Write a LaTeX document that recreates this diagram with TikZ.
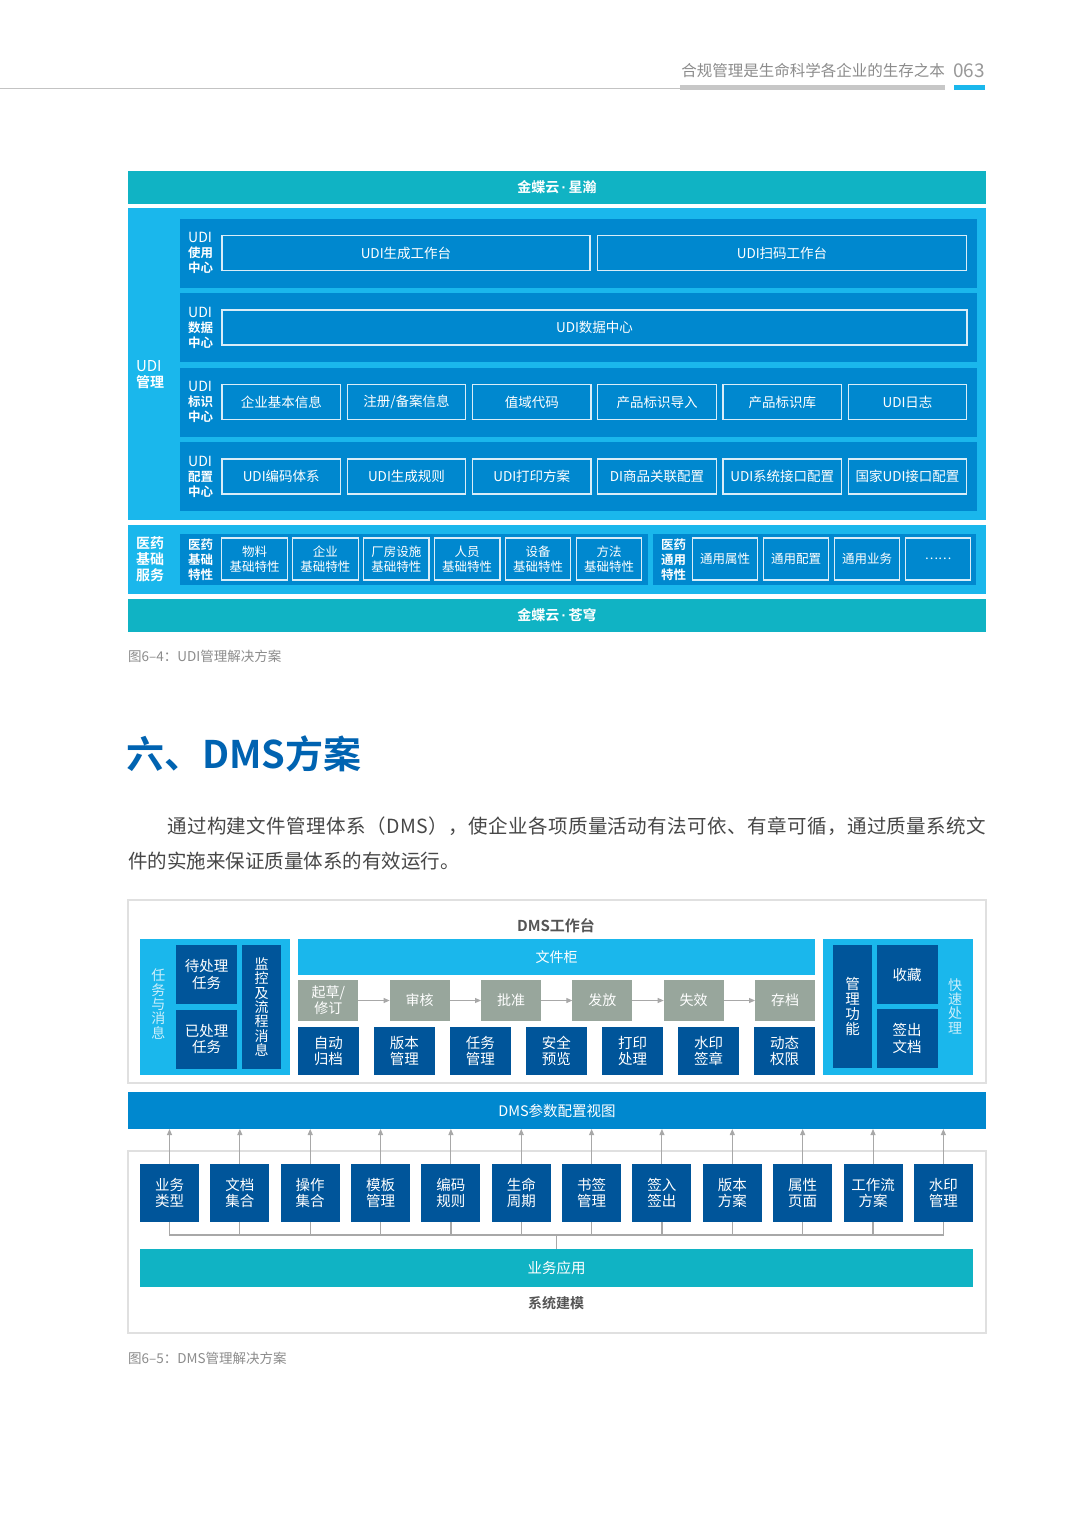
\documentclass[tikz,border=0pt]{standalone}
\usepackage{fontspec}
\setmainfont{Noto Sans CJK SC}[BoldFont={Noto Sans CJK SC Bold}]
\newfontfamily\latinfont{Liberation Sans}
\usetikzlibrary{arrows.meta,positioning}
\definecolor{tealbar}{HTML}{10B3C4}
\definecolor{skyblue}{HTML}{1AB7EC}
\definecolor{midblue}{HTML}{0088CF}
\definecolor{navyblue}{HTML}{00559A}
\definecolor{stepgray}{HTML}{98A69C}
\definecolor{headblue}{HTML}{0063B1}
\definecolor{linegray}{HTML}{A8A8A8}
\definecolor{framegray}{HTML}{E0E0E0}
\definecolor{textgray}{HTML}{555555}
\definecolor{softgray}{HTML}{8C8C8C}
\newcommand\middot{{\latinfont\,·\,}}
\newcommand\udi{{\mdseries\fontsize{14}{15}\selectfont UDI}}
\tikzset
{
    band/.style      = {rectangle, inner sep=0pt, outer sep=0pt},
    tealband/.style  = {band, fill=tealbar, text=white, minimum width=858pt, minimum height=33pt, font=\fontsize{14}{16}\selectfont\bfseries},
    skyband/.style   = {band, fill=skyblue},
    rowpanel/.style  = {band, fill=midblue, minimum width=797pt, minimum height=69pt},
    sidelabel/.style = {text=white, align=left, inner sep=0pt, font=\fontsize{14}{16}\selectfont\bfseries},
    rowlabel/.style  = {text=white, align=left, inner sep=0pt, font=\fontsize{12.5}{15}\selectfont\bfseries},
    outbox/.style    = {band, draw=white!85!midblue, line width=1.2pt, text=white, minimum width=118.5pt, minimum height=35pt, font=\fontsize{13.5}{15}\selectfont},
    smallbox/.style  = {outbox, minimum width=65.5pt, minimum height=42pt, align=center, font=\fontsize{12.5}{15}\selectfont},
    caption/.style   = {anchor=west, inner sep=0pt, text=softgray, font=\fontsize{13.5}{15}\selectfont},
    bodytext/.style  = {anchor=west, inner sep=0pt, text=black!72, font=\fontsize{19.5}{22}\selectfont},
    frame/.style     = {draw=framegray, line width=1.5pt},
    navybox/.style   = {band, fill=navyblue, text=white, align=center, minimum width=61pt, minimum height=59pt, font=\fontsize{14.5}{16.5}\selectfont},
    stepbox/.style   = {band, fill=stepgray, text=white, align=center, minimum width=60pt, minimum height=41pt, font=\fontsize{14}{16}\selectfont},
    vertlabel/.style = {text=white!78!skyblue, align=center, inner sep=0pt, font=\fontsize{14}{14.3}\selectfont},
    flow/.style      = {draw=linegray, line width=1pt, -{Triangle[length=6pt,width=5pt]}},
    bus/.style       = {draw=linegray, line width=1.2pt}
}

\begin{document}
\begin{tikzpicture}[x=1pt, y=-1pt]
\useasboundingbox[fill=white] (0,0) rectangle (1080,1524);
%% running head
\draw[framegray!70!gray, line width=1pt] (0,88.5) -- (680,88.5);
\fill[black!22] (680,85) rectangle (945,89.5);
\fill[skyblue] (954,85) rectangle (985,89.5);
\node(runhead) [anchor=east, inner sep=0pt, text=softgray, font=\fontsize{15.5}{17}\selectfont] at (945,71) {合规管理是生命科学各企业的生存之本};
\node(pageno) [anchor=west, inner sep=0pt, text=black!40, font=\fontsize{19}{21}\selectfont] at (953,71) {063};

%% UDI figure
\newcommand\rowPitch{74.5}
\newcommand\bxPitch{125.25}
\newcommand\medPitch{70.9}
\node(xhtop) [tealband] at (557,187.5) {金蝶云\middot 星瀚};
\node(udibg) [skyband, minimum width=858pt, minimum height=312pt] at (557,364) {};
\node(udilbl) [sidelabel] at (150,375) {{\mdseries\fontsize{15}{16}\selectfont UDI}\\管理};
\node(rowuse) [rowpanel] at (578.5,253) {};
\node(rowdata) [rowpanel] at ([shift=({0,\rowPitch})]rowuse) {};
\node(rowid) [rowpanel] at ([shift=({0,\rowPitch})]rowdata) {};
\node(rowcfg) [rowpanel] at ([shift=({0,\rowPitch})]rowid) {};
\node(lbluse) [rowlabel, anchor=west] at ([xshift=8pt]rowuse.west) {\udi\\使用\\中心};
\node(lbldata) [rowlabel, anchor=west] at ([xshift=8pt]rowdata.west) {\udi\\数据\\中心};
\node(lblid) [rowlabel, anchor=west] at ([xshift=8pt]rowid.west) {\udi\\标识\\中心};
\node(lblcfg) [rowlabel, anchor=west] at ([xshift=8pt]rowcfg.west) {\udi\\配置\\中心};
\node(genws) [outbox, minimum width=368pt] at (406,253) {UDI生成工作台};
\node(scanws) [outbox, minimum width=369pt] at (782,253) {UDI扫码工作台};
\node(datactr) [outbox, minimum width=745pt] at (594.5,327.5) {UDI数据中心};
\node(entinfo) [outbox] at (281.25,402) {企业基本信息};
\node(reginfo) [outbox] at ([shift=({\bxPitch,0})]entinfo) {注册/备案信息};
\node(domcode) [outbox] at ([shift=({\bxPitch,0})]reginfo) {值域代码};
\node(pidimp) [outbox] at ([shift=({\bxPitch,0})]domcode) {产品标识导入};
\node(piddb) [outbox] at ([shift=({\bxPitch,0})]pidimp) {产品标识库};
\node(udilog) [outbox] at ([shift=({\bxPitch,0})]piddb) {UDI日志};
\node(codesys) [outbox] at (281.25,476.5) {UDI编码体系};
\node(genrule) [outbox] at ([shift=({\bxPitch,0})]codesys) {UDI生成规则};
\node(printpl) [outbox] at ([shift=({\bxPitch,0})]genrule) {UDI打印方案};
\node(dilink) [outbox] at ([shift=({\bxPitch,0})]printpl) {DI商品关联配置};
\node(sysif) [outbox] at ([shift=({\bxPitch,0})]dilink) {UDI系统接口配置};
\node(natif) [outbox] at ([shift=({\bxPitch,0})]sysif) {国家UDI接口配置};
% base services
\node(medbg) [skyband, minimum width=858pt, minimum height=69pt] at (557,559.5) {};
\node(medlbl) [sidelabel] at (150,559.5) {医药\\基础\\服务};
\node(basepanel) [rowpanel, minimum width=468pt, minimum height=51pt] at (414,559.5) {};
\node(baselbl) [rowlabel, anchor=west] at ([xshift=8pt]basepanel.west) {医药\\基础\\特性};
\node(matl) [smallbox] at (254.5,559) {物料\\基础特性};
\node(corp) [smallbox] at ([shift=({\medPitch,0})]matl) {企业\\基础特性};
\node(plant) [smallbox] at ([shift=({\medPitch,0})]corp) {厂房设施\\基础特性};
\node(staff) [smallbox] at ([shift=({\medPitch,0})]plant) {人员\\基础特性};
\node(equip) [smallbox] at ([shift=({\medPitch,0})]staff) {设备\\基础特性};
\node(method) [smallbox] at ([shift=({\medPitch,0})]equip) {方法\\基础特性};
\node(genpanel) [rowpanel, minimum width=323pt, minimum height=51pt] at (814.5,559.5) {};
\node(genlbl) [rowlabel, anchor=west] at ([xshift=8pt]genpanel.west) {医药\\通用\\特性};
\node(genattr) [smallbox] at (725,559) {通用属性};
\node(gencfg) [smallbox] at ([shift=({71,0})]genattr) {通用配置};
\node(genbiz) [smallbox] at ([shift=({71,0})]gencfg) {通用业务};
\node(genmore) [smallbox] at ([shift=({71,0})]genbiz) {……};
\node(xhbot) [tealband] at (557,615.5) {金蝶云\middot 苍穹};
\node(capudi) [caption] at (128,656) {图6–4：UDI管理解决方案};

%% section text
\node(sechead) [anchor=west, inner sep=0pt, text=headblue, font=\fontsize{38}{42}\selectfont\bfseries] at (126,754) {六、DMS方案};
\node(para1) [bodytext] at (167,826) {\addfontfeatures{LetterSpace=2.2}通过构建文件管理体系（DMS），使企业各项质量活动有法可依、有章可循，通过质量系统文};
\node(para2) [bodytext] at (128,861) {件的实施来保证质量体系的有效运行。};

%% DMS workbench
\newcommand\stepPitch{91.35}
\newcommand\toolPitch{76.05}
\newcommand\modPitch{70.35}
\draw[frame] (128,900) rectangle (986,1083);
\node(wbtitle) [text=textgray, font=\fontsize{15}{17}\selectfont\bfseries] at (556,926) {DMS工作台};
\node(taskpanel) [skyband, minimum width=150pt, minimum height=136pt] at (215,1007) {};
\node(tasklbl) [vertlabel] at (158.3,1004) {任\\务\\与\\消\\息};
\node(pendtask) [navybox, minimum height=59pt] at (206.5,974.5) {待处理\\任务};
\node(donetask) [navybox, minimum height=59pt] at (206.5,1039) {已处理\\任务};
\node(monmsg) [navybox, minimum width=39pt, minimum height=124pt, font=\fontsize{14}{14.3}\selectfont] at (261.5,1007) {监\\控\\及\\流\\程\\消\\息};
\node(cabinet) [skyband, text=white, minimum width=517pt, minimum height=36pt, font=\fontsize{14}{16}\selectfont] at (556.5,957) {文件柜};
\node(draft) [stepbox] at (328.3,1000.5) {起草/\\修订};
\node(review) [stepbox] at ([shift=({\stepPitch,0})]draft) {审核};
\node(approve) [stepbox] at ([shift=({\stepPitch,0})]review) {批准};
\node(release) [stepbox] at ([shift=({\stepPitch,0})]approve) {发放};
\node(expire) [stepbox] at ([shift=({\stepPitch,0})]release) {失效};
\node(archive) [stepbox] at ([shift=({\stepPitch,0})]expire) {存档};
\draw[flow] (draft) -- (review);
\draw[flow] (review) -- (approve);
\draw[flow] (approve) -- (release);
\draw[flow] (release) -- (expire);
\draw[flow] (expire) -- (archive);
\node(autoarch) [navybox, minimum height=48pt] at (328.3,1051) {自动\\归档};
\node(vermgmt) [navybox, minimum height=48pt] at ([shift=({\toolPitch,0})]autoarch) {版本\\管理};
\node(taskmgmt) [navybox, minimum height=48pt] at ([shift=({\toolPitch,0})]vermgmt) {任务\\管理};
\node(safeview) [navybox, minimum height=48pt] at ([shift=({\toolPitch,0})]taskmgmt) {安全\\预览};
\node(printproc) [navybox, minimum height=48pt] at ([shift=({\toolPitch,0})]safeview) {打印\\处理};
\node(wmsign) [navybox, minimum height=48pt] at ([shift=({\toolPitch,0})]printproc) {水印\\签章};
\node(dynperm) [navybox, minimum height=48pt] at ([shift=({\toolPitch,0})]wmsign) {动态\\权限};
\node(quickpanel) [skyband, minimum width=150pt, minimum height=136pt] at (898,1007) {};
\node(mgmtfn) [navybox, minimum width=39pt, minimum height=123pt, font=\fontsize{14.5}{14.8}\selectfont] at (852.5,1006.5) {管\\理\\功\\能};
\node(favor) [navybox] at (907,974.5) {收藏};
\node(checkout) [navybox] at (907,1038.5) {签出\\文档};
\node(quicklbl) [vertlabel] at (955,1006) {快\\速\\处\\理};

%% DMS parameters
\node(parmbar) [band, fill=midblue, text=white, minimum width=858pt, minimum height=37pt, font=\fontsize{14.5}{16}\selectfont] at (557,1110.5) {DMS参数配置视图};
\draw[frame] (128,1151) rectangle (986,1333);
\node(mtype) [navybox, minimum width=59pt, minimum height=58pt] at (169.5,1193) {业务\\类型};
\node(mdocset) [navybox, minimum width=59pt, minimum height=58pt] at ([shift=({\modPitch,0})]mtype) {文档\\集合};
\node(mopset) [navybox, minimum width=59pt, minimum height=58pt] at ([shift=({\modPitch,0})]mdocset) {操作\\集合};
\node(mtpl) [navybox, minimum width=59pt, minimum height=58pt] at ([shift=({\modPitch,0})]mopset) {模板\\管理};
\node(mcode) [navybox, minimum width=59pt, minimum height=58pt] at ([shift=({\modPitch,0})]mtpl) {编码\\规则};
\node(mlife) [navybox, minimum width=59pt, minimum height=58pt] at ([shift=({\modPitch,0})]mcode) {生命\\周期};
\node(mbmark) [navybox, minimum width=59pt, minimum height=58pt] at ([shift=({\modPitch,0})]mlife) {书签\\管理};
\node(mcheck) [navybox, minimum width=59pt, minimum height=58pt] at ([shift=({\modPitch,0})]mbmark) {签入\\签出};
\node(mverpl) [navybox, minimum width=59pt, minimum height=58pt] at ([shift=({\modPitch,0})]mcheck) {版本\\方案};
\node(mattr) [navybox, minimum width=59pt, minimum height=58pt] at ([shift=({\modPitch,0})]mverpl) {属性\\页面};
\node(mflow) [navybox, minimum width=59pt, minimum height=58pt] at ([shift=({\modPitch,0})]mattr) {工作流\\方案};
\node(mwmark) [navybox, minimum width=59pt, minimum height=58pt] at ([shift=({\modPitch,0})]mflow) {水印\\管理};
\draw[flow] (mtype.north) -- (mtype.north |- parmbar.south);
\draw[flow] (mdocset.north) -- (mdocset.north |- parmbar.south);
\draw[flow] (mopset.north) -- (mopset.north |- parmbar.south);
\draw[flow] (mtpl.north) -- (mtpl.north |- parmbar.south);
\draw[flow] (mcode.north) -- (mcode.north |- parmbar.south);
\draw[flow] (mlife.north) -- (mlife.north |- parmbar.south);
\draw[flow] (mbmark.north) -- (mbmark.north |- parmbar.south);
\draw[flow] (mcheck.north) -- (mcheck.north |- parmbar.south);
\draw[flow] (mverpl.north) -- (mverpl.north |- parmbar.south);
\draw[flow] (mattr.north) -- (mattr.north |- parmbar.south);
\draw[flow] (mflow.north) -- (mflow.north |- parmbar.south);
\draw[flow] (mwmark.north) -- (mwmark.north |- parmbar.south);
\node(appbar) [band, fill=tealbar, text=white, minimum width=833pt, minimum height=38pt, font=\fontsize{14.5}{16}\selectfont] at (556.5,1268) {业务应用};
\coordinate(busmid) at (556.7,1235);
\draw[bus] (mtype.south) -- (mtype.south |- busmid) -- (mwmark.south |- busmid) -- (mwmark.south);
\draw[bus] (mdocset.south) -- (mdocset.south |- busmid);
\draw[bus] (mopset.south) -- (mopset.south |- busmid);
\draw[bus] (mtpl.south) -- (mtpl.south |- busmid);
\draw[bus] (mcode.south) -- (mcode.south |- busmid);
\draw[bus] (mlife.south) -- (mlife.south |- busmid);
\draw[bus] (mbmark.south) -- (mbmark.south |- busmid);
\draw[bus] (mcheck.south) -- (mcheck.south |- busmid);
\draw[bus] (mverpl.south) -- (mverpl.south |- busmid);
\draw[bus] (mattr.south) -- (mattr.south |- busmid);
\draw[bus] (mflow.south) -- (mflow.south |- busmid);
\draw[bus] (busmid) -- (busmid |- appbar.north);
\node(modtitle) [text=textgray, font=\fontsize{14}{16}\selectfont\bfseries] at (556,1303) {系统建模};
\node(capdms) [caption] at (128,1358) {图6–5：DMS管理解决方案};
\end{tikzpicture}
\end{document}
